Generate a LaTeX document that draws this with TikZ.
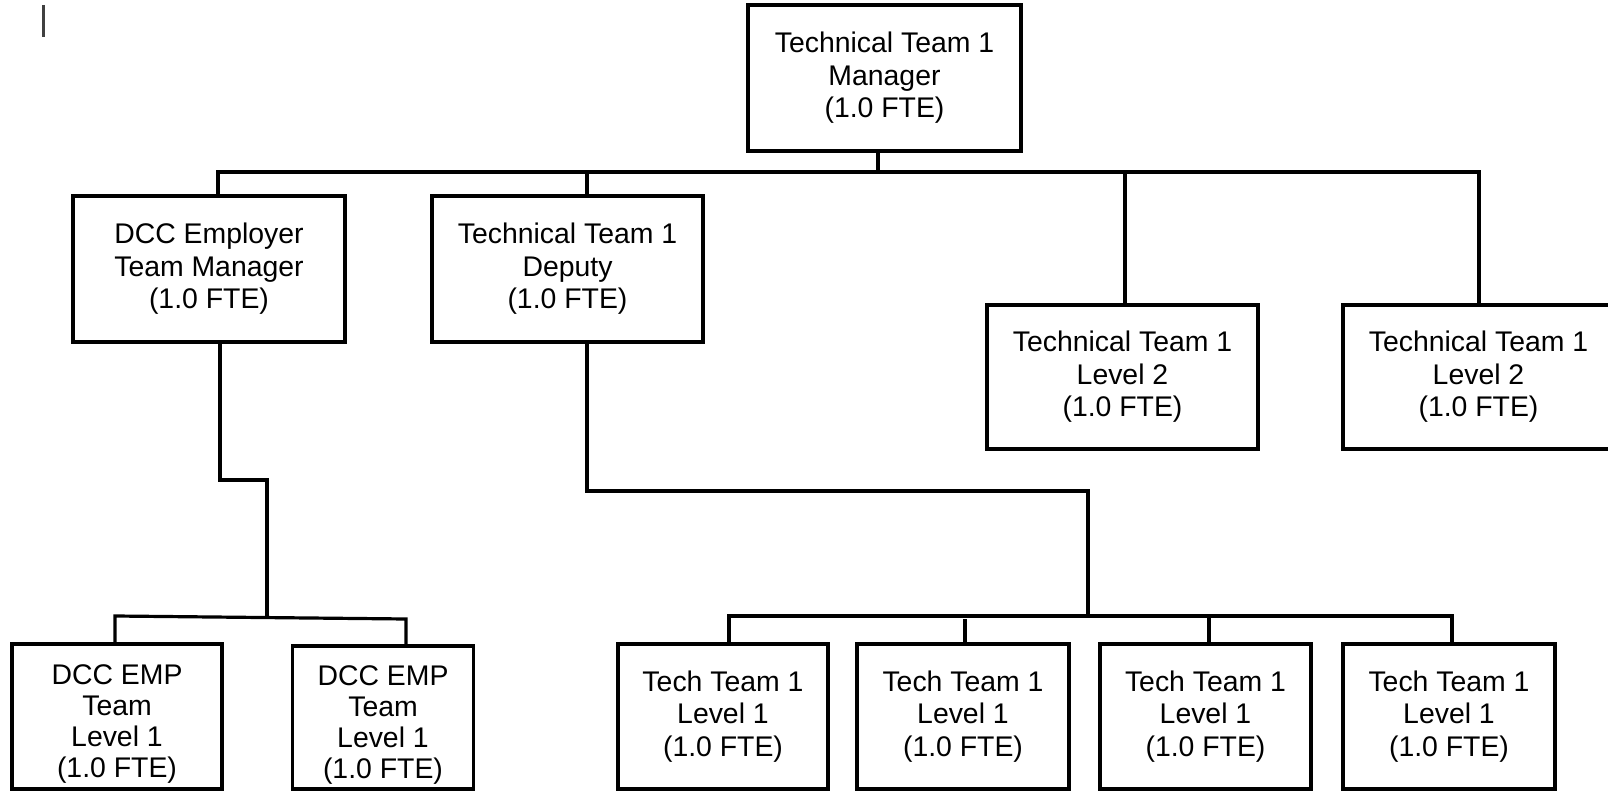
\documentclass[tikz,border=0pt]{standalone}
\usepackage{fontspec}
\setmainfont{Liberation Sans}
\tikzstyle{rolebox}=[draw,line width=1.6pt,align=center,inner sep=0pt,font=\fontsize{14.2}{16.3}\selectfont]
\tikzstyle{reportline}=[line width=1.6pt]
\tikzstyle{lowbox}=[rolebox,minimum height=72.5pt]

\begin{document}
\begin{tikzpicture}[x=0.5pt,y=-0.5pt]
\useasboundingbox (0,0) rectangle (1608,791);
%\draw[red] (0,0) rectangle (1608,791);
\draw[line width=1.3pt,black!75] (43.5,5) -- (43.5,37);

% first and second row
\node[rolebox,minimum width=136.5pt,minimum height=73pt] (mgr) at (884.5,78) {Technical Team 1\\Manager\\(1.0 FTE)};
\node[rolebox,minimum width=136pt,minimum height=73pt] (emp) at (209,269) {DCC Employer\\Team Manager\\(1.0 FTE)};
\node[rolebox,minimum width=135.5pt,minimum height=73pt] (dep) at (567.5,269) {Technical Team 1\\Deputy\\(1.0 FTE)};
\node[rolebox,minimum width=135.5pt,minimum height=72pt] (lvlA) at (1122.5,377) {Technical Team 1\\Level 2\\(1.0 FTE)};
\node[rolebox,minimum width=135.5pt,minimum height=72pt] (lvlB) at (1478.5,377) {Technical Team 1\\Level 2\\(1.0 FTE)};

% bottom row
\node[lowbox,minimum width=105pt,font=\fontsize{14.2}{15.5}\selectfont] (emp1) at (117,716.5) {\rule{0pt}{17pt}DCC EMP\\Team\\Level 1\\(1.0 FTE)};
\node[lowbox,minimum width=90.5pt,minimum height=71.5pt,font=\fontsize{14.2}{15.5}\selectfont] (emp2) at (383,717.5) {\rule{0pt}{17pt}DCC EMP\\Team\\Level 1\\(1.0 FTE)};
\node[lowbox,minimum width=105pt] (tech1) at (723,716.5) {Tech Team 1\\Level 1\\(1.0 FTE)};
\node[lowbox,minimum width=106pt] (tech2) at (963,716.5) {Tech Team 1\\Level 1\\(1.0 FTE)};
\node[lowbox,minimum width=105.5pt] (tech3) at (1205.5,716.5) {Tech Team 1\\Level 1\\(1.0 FTE)};
\node[lowbox,minimum width=106pt] (tech4) at (1449,716.5) {Tech Team 1\\Level 1\\(1.0 FTE)};

\coordinate (empjoin) at (267,617);
\coordinate (techjoin) at (1088,616);

% reporting lines
\draw[reportline] (mgr.south -| 878,0) -- (878,172);
\draw[reportline] (emp.north -| 218,0) -- (218,172) -- (1479,172) -- (lvlB.north -| 1479,0);
\draw[reportline] (587,172) -- (dep.north -| 587,0);
\draw[reportline] (1125,172) -- (lvlA.north -| 1125,0);

\draw[reportline] (emp.south -| 220,0) |- (267,480) -- (empjoin);
\draw[reportline] (emp1.north -| 115,0) -- (115,616) -- (406,619) -- (emp2.north -| 406,0);

\draw[reportline] (dep.south -| 587,0) |- (1088,491) -- (techjoin);
\draw[reportline] (tech1.north -| 729,0) -- (729,616) -- (1452,616) -- (tech4.north -| 1452,0);
\draw[reportline] (965,619) -- (tech2.north -| 965,0);
\draw[reportline] (1209,616) -- (tech3.north -| 1209,0);
\end{tikzpicture}
\end{document}
